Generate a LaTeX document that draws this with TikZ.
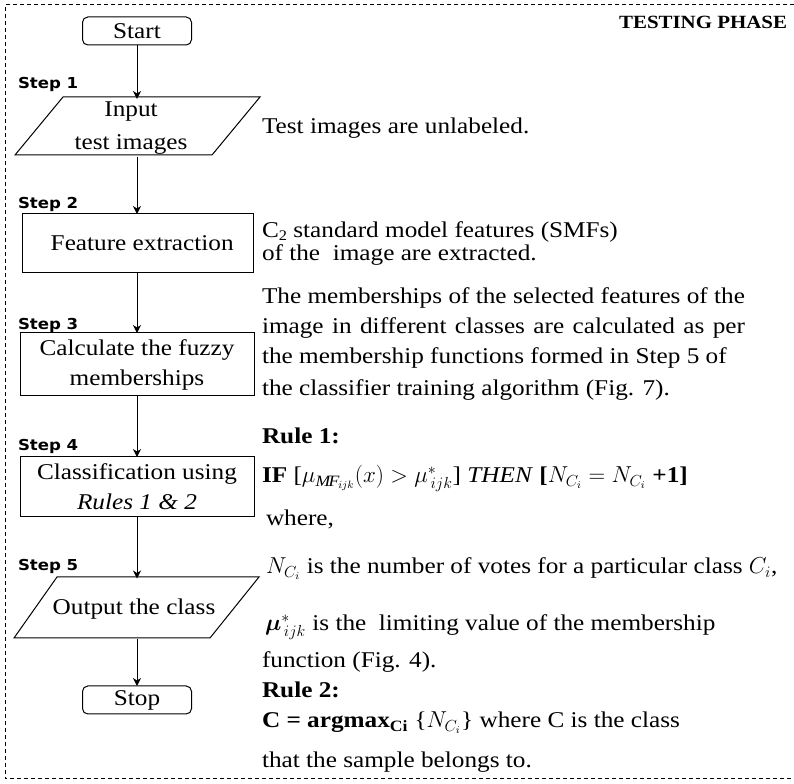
\documentclass[tikz,border=0pt]{standalone}
\usepackage{fontspec}
\setmainfont{Liberation Serif}[FakeStretch=1.12]
\newfontfamily\stepfont{DejaVu Sans}[FakeStretch=1.1]
\usepackage{bm}
\usetikzlibrary{arrows.meta}
\def\PX{0.75pt}

\begin{document}
\begin{tikzpicture}[x=0.75pt,y=-0.75pt,
  every node/.style={inner sep=0pt,outer sep=0pt},
  body/.style={anchor=base west,font=\fontsize{16.9}{20}\selectfont},
  flowbox/.style={draw,line width=0.75pt,align=center,
    font=\fontsize{16.9}{22.5}\selectfont},
  endbox/.style={flowbox,rounded corners=4pt,minimum width=109*\PX,minimum height=28*\PX},
  iotext/.style={align=center,font=\fontsize{16.9}{24.5}\selectfont},
  ioshape/.style={draw,line width=0.75pt},
  steplabel/.style={anchor=base west,font=\stepfont\bfseries\fontsize{11.3}{13}\selectfont},
  arr/.style={line width=0.75pt,-{Stealth[length=8*\PX,width=8*\PX,inset=2.5*\PX]}},
  frame/.style={line width=0.75pt,dash pattern=on 3pt off 2.25pt}]

\useasboundingbox (0,0) rectangle (794,784);

% dashed frame
\draw[frame] (794,5) -- (5,5) -- (5,779) -- (794,779);
\node[anchor=base east,font=\fontsize{14}{16}\selectfont\bfseries] (title) at (787,29) {TESTING PHASE};

% flowchart shapes
\node[endbox] (start) at (137,31) {Start};

\draw[ioshape] (63,97) -- (260,97) -- (212,155) -- (15,155) -- cycle;
\node[iotext,minimum width=150*\PX,minimum height=58*\PX] (in) at (131,128) {Input\\test images};

\node[flowbox,minimum width=231*\PX,minimum height=59*\PX] (feat) at (137.5,243.5) {\hspace*{7pt}Feature extraction};
\node[flowbox,minimum width=234*\PX,minimum height=63*\PX] (calc) at (137,364.5) {Calculate the fuzzy\\memberships};
\node[flowbox,minimum width=234*\PX,minimum height=60*\PX] (cls) at (137,487) {Classification using\\\textit{Rules 1 \& 2}};

\draw[ioshape] (57,577) -- (259,577) -- (210,638) -- (14,638) -- cycle;
\node[iotext,minimum width=150*\PX,minimum height=61*\PX] (out) at (134,609) {Output the class};

\node[endbox] (stop) at (137,700) {Stop};

% step labels
\node[steplabel] (s1) at (18,89) {Step 1};
\node[steplabel] (s2) at (18,209) {Step 2};
\node[steplabel] (s3) at (18,330) {Step 3};
\node[steplabel] (s4) at (18,451) {Step 4};
\node[steplabel] (s5) at (18,571) {Step 5};

% connectors
\draw[arr] (start.south) -- (start.south |- in.north);
\draw[arr] (start.south |- in.south) -- (start.south |- feat.north);
\draw[arr] (feat.south -| start.south) -- (start.south |- calc.north);
\draw[arr] (calc.south -| start.south) -- (start.south |- cls.north);
\draw[arr] (cls.south -| start.south) -- (start.south |- out.north);
\draw[arr] (start.south |- out.south) -- (stop.north);

% descriptions
\node[body] (d1) at (262,134) {Test images are unlabeled.};
\node[body] (d2a) at (262,238) {C\raisebox{-2pt}{\fontsize{11}{12}\selectfont 2} standard model features (SMFs)};
\node[body] (d2b) at (262,261) {of the~ image are extracted.};
\node[body] (d3a) at (262,304) {\makebox[362.25pt][s]{The memberships of the selected features of the}};
\node[body] (d3b) at (262,334) {\makebox[362.25pt][s]{image in different classes are calculated as per}};
\node[body] (d3c) at (262,364) {the membership functions formed in Step 5 of};
\node[body] (d3d) at (262,396) {the classifier training algorithm (Fig. 7).};

\node[body,font=\fontsize{16.9}{20}\selectfont\bfseries] (r1) at (262,444) {Rule 1:};
\node[body] (r1f) at (262,483) {\textbf{IF} [$\mu_{\mathit{MF}_{ijk}}\mathbf{(}x\mathbf{)} > \mu^{*}_{\,ijk}$] \textit{THEN} \textbf{[}$N_{C_i} = N_{C_i}$ \textbf{+1]}};
\node[body] (wh) at (266,526) {where,};
\node[body] (nc) at (266,574) {$N_{C_i}$ is the number of votes for a particular class $C_i$,};
\node[body] (mu) at (265,631) {$\bm{\mu}^{*}_{\,ijk}$ is the~ limiting value of the membership};
\node[body] (fn) at (262,668) {function (Fig. 4).};
\node[body,font=\fontsize{16.9}{20}\selectfont\bfseries] (r2) at (262,698) {Rule 2:};
\node[body] (am) at (262,728) {\textbf{C = argmax}\textsubscript{\textbf{Ci}} \{$N_{C_i}$\} where C is the class};
\node[body] (sb) at (262,768) {that the sample belongs to.};
\end{tikzpicture}
\end{document}
